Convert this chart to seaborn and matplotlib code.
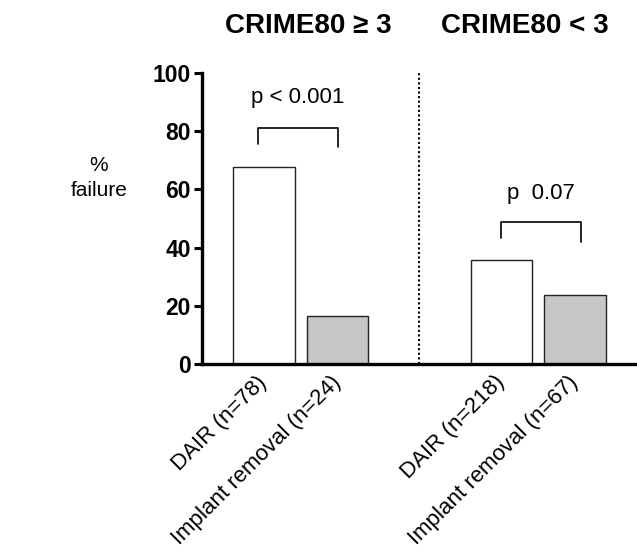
import numpy as np
import pandas as pd
import seaborn as sns
from matplotlib import pyplot as plt

sns.set_style('white')
plt.rcParams['font.family'] = ['Liberation Sans', 'DejaVu Sans']
plt.rcParams['text.color'] = 'black'
plt.rcParams['xtick.color'] = 'black'
plt.rcParams['ytick.color'] = 'black'

# data
groups = ['CRIME80 \u2265 3', 'CRIME80 \u2265 3', 'CRIME80 < 3', 'CRIME80 < 3']
treatment = ['DAIR', 'Implant removal', 'DAIR', 'Implant removal']
tick_labels = ['DAIR (n=78)', 'Implant removal (n=24)',
               'DAIR (n=218)', 'Implant removal (n=67)']
failure_pct = [67.7, 16.6, 35.7, 23.8]
p_values = ['p < 0.001', 'p  0.07']

# layout (bar slots on the x axis)
slots = [0.0, 1.0, 3.23, 4.23]

df = pd.DataFrame({'slot': slots, 'failure': failure_pct, 'treatment': treatment})

fig = plt.figure(figsize=(6.37, 5.58), dpi=100)
ax = fig.add_axes([0.3171, 0.3477, 0.6829, 0.5215])

sns.barplot(data=df, x='slot', y='failure', hue='treatment', native_scale=True,
            dodge=False, width=0.84, palette={'DAIR': 'white', 'Implant removal': '#c6c6c6'},
            edgecolor='#222222', linewidth=1.0, legend=False, ax=ax)

ax.set_xlim(-0.844, 5.075)
ax.set_ylim(0, 100)
ax.set_yticks([0, 20, 40, 60, 80, 100])
ax.set_xticks(slots)
ax.set_xticklabels(tick_labels, rotation=45, ha='right', va='center',
                   rotation_mode='anchor', fontsize=16)
ax.tick_params(axis='x', length=0, pad=11)
ax.tick_params(axis='y', left=True, direction='out', length=6, width=2.2,
               labelsize=16.5, pad=2)
for t in ax.get_yticklabels():
    t.set_fontweight('bold')
ax.set_xlabel('')
ax.set_ylabel('')

sns.despine(ax=ax)
for s in ['left', 'bottom']:
    ax.spines[s].set_linewidth(2.4)
    ax.spines[s].set_color('black')

# divider between the two groups
ax.plot([2.109, 2.109], [0, 100], ls=(0, (1, 1.2)), color='black', lw=1.5)

# significance brackets
def bracket(x1, x2, y, h1, h2, label, ty):
    ax.plot([x1, x1, x2, x2], [y - h1, y, y, y - h2], color='black', lw=1.2)
    ax.text((x1 + x2) / 2, ty, label, ha='center', va='center', fontsize=16)

bracket(slots[0] - 0.08, slots[1], 81, 5.5, 6.5, p_values[0], 91.5)
bracket(slots[2], slots[3] + 0.08, 48.8, 5.5, 6.8, p_values[1], 58.5)

fig.text(308 / 637, 1 - 26 / 558, groups[0], ha='center', va='center',
         fontsize=20, fontweight='bold')
fig.text(525 / 637, 1 - 26 / 558, groups[2], ha='center', va='center',
         fontsize=20, fontweight='bold')
fig.text(99 / 637, 1 - 178 / 558, '%\nfailure', ha='center', va='center',
         fontsize=15, multialignment='center', linespacing=1.35)

plt.savefig('out.png', dpi=100)
